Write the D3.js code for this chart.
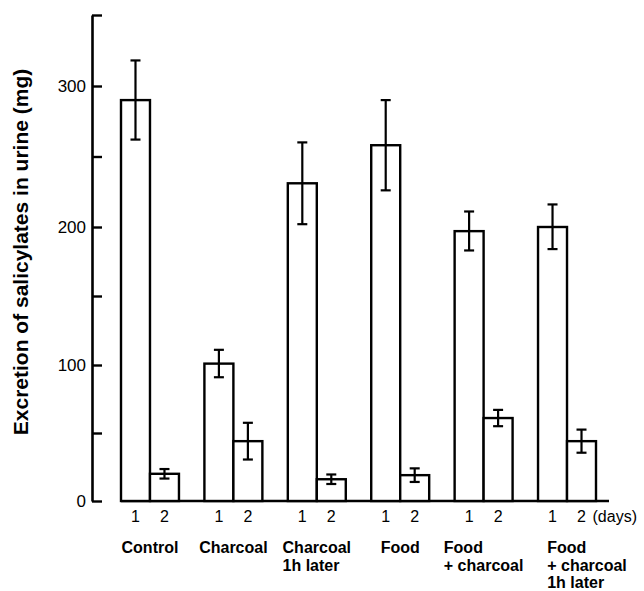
<!DOCTYPE html>
<html>
<head>
<meta charset="utf-8">
<script src="https://cdn.jsdelivr.net/npm/d3@7"></script>
<style>
  body { margin: 0; background: #fff; }
  svg { display: block; font-family: "Liberation Sans", Arial, sans-serif; }
</style>
</head>
<body>
<div id="chart"></div>
<script>
// groups along the x axis (lines of each label)
var categories = [
  ["Control"],
  ["Charcoal"],
  ["Charcoal", "1h later"],
  ["Food"],
  ["Food", "+ charcoal"],
  ["Food", "+ charcoal", "1h later"]
];
var days = ["1", "2"];

// salicylate excretion (mg), mean and error per day
var day1Mean = [290, 101, 231, 258, 197, 200];
var day1Err  = [28, 10, 29, 32, 14, 16];
var day2Mean = [20, 44, 16, 19, 61, 44];
var day2Err  = [3.5, 13.5, 3.5, 5, 6, 8.5];

var yTicks = [0, 50, 100, 150, 200, 250, 300, 350];
var yLabels = [0, 100, 200, 300];

var w = 644, h = 591;

var svg = d3.select("#chart")
    .append("svg")
    .attr("width", w)
    .attr("height", h);

// y scale: printed axis is very slightly uneven, so pin it to the tick marks
var y = d3.scaleLinear()
    .domain([0, 100, 200, 300, 350])
    .range([501, 365, 227, 86, 15]);

// group scale and day scale inside each group
var x0 = d3.scaleBand()
    .domain(d3.range(categories.length))
    .range([121, 596])
    .paddingInner(0.305)
    .paddingOuter(0);

var x1 = d3.scaleBand()
    .domain(days)
    .range([0, x0.bandwidth()]);

// flatten to one record per bar
var bars = [];
categories.forEach(function(c, i) {
    bars.push({ g: i, day: "1", v: day1Mean[i], e: day1Err[i] });
    bars.push({ g: i, day: "2", v: day2Mean[i], e: day2Err[i] });
});

// y axis, ticks point into the plot
var yAxis = d3.axisLeft(y)
    .tickValues(yTicks)
    .tickSizeInner(-10)
    .tickSizeOuter(0)
    .tickPadding(6)
    .tickFormat(function(d) { return yLabels.indexOf(d) >= 0 ? d : ""; });

var ag = svg.append("g")
    .attr("transform", "translate(92,0)")
    .call(yAxis);
ag.select(".domain").attr("stroke", "#000").attr("stroke-width", 2.6);
ag.selectAll(".tick line").attr("stroke", "#000").attr("stroke-width", 2.4);
ag.selectAll(".tick text")
    .attr("fill", "#000")
    .style("font-size", "17px")
    .attr("x", -6);

// y title
svg.append("text")
    .attr("transform", "translate(28,252) rotate(-90)")
    .attr("text-anchor", "middle")
    .style("font-size", "21px")
    .style("font-weight", "bold")
    .text("Excretion of salicylates in urine (mg)");

// baseline
svg.append("line")
    .attr("x1", x0.range()[0])
    .attr("x2", x0.range()[1] + 13)
    .attr("y1", y(0))
    .attr("y2", y(0))
    .attr("stroke", "#000")
    .attr("stroke-width", 2.6);

// bars
svg.selectAll("rect.bar")
    .data(bars)
    .enter()
    .append("rect")
    .attr("class", "bar")
    .attr("x", function(d) { return x0(d.g) + x1(d.day); })
    .attr("y", function(d) { return y(d.v); })
    .attr("width", x1.bandwidth())
    .attr("height", function(d) { return y(0) - y(d.v); })
    .attr("fill", "#fff")
    .attr("stroke", "#000")
    .attr("stroke-width", 2.4);

// error bars
var eb = svg.selectAll("g.err")
    .data(bars)
    .enter()
    .append("g")
    .attr("class", "err")
    .attr("transform", function(d) {
        return "translate(" + (x0(d.g) + x1(d.day) + x1.bandwidth() / 2) + ",0)";
    })
    .attr("stroke", "#000")
    .attr("stroke-width", 2.2);

eb.append("line")
    .attr("y1", function(d) { return y(d.v + d.e); })
    .attr("y2", function(d) { return y(d.v - d.e); });
eb.append("line")
    .attr("x1", -5).attr("x2", 5)
    .attr("y1", function(d) { return y(d.v + d.e); })
    .attr("y2", function(d) { return y(d.v + d.e); });
eb.append("line")
    .attr("x1", -5).attr("x2", 5)
    .attr("y1", function(d) { return y(d.v - d.e); })
    .attr("y2", function(d) { return y(d.v - d.e); });

// day numbers under bars
svg.selectAll("text.day")
    .data(bars)
    .enter()
    .append("text")
    .attr("class", "day")
    .attr("x", function(d) { return x0(d.g) + x1(d.day) + x1.bandwidth() / 2; })
    .attr("y", 522)
    .attr("text-anchor", "middle")
    .style("font-size", "16px")
    .text(function(d) { return d.day; });

var last = bars[bars.length - 1];
svg.append("text")
    .attr("x", x0(last.g) + x1(last.day) + x1.bandwidth() / 2 + 11)
    .attr("y", 522)
    .style("font-size", "16px")
    .text("(days)");

// group labels: block centred under group, lines left aligned
categories.forEach(function(lines, i) {
    var t = svg.append("text")
        .style("font-size", "16px")
        .style("font-weight", "bold");
    lines.forEach(function(s, k) {
        t.append("tspan")
            .attr("x", 0)
            .attr("y", 553 + k * 17.5)
            .text(s);
    });
    var bw = t.node().getBBox().width;
    var left = x0(i) + x0.bandwidth() / 2 - bw / 2;
    if (i === categories.length - 1) left += 20;
    t.attr("transform", "translate(" + left + ",0)");
});
</script>
</body>
</html>
